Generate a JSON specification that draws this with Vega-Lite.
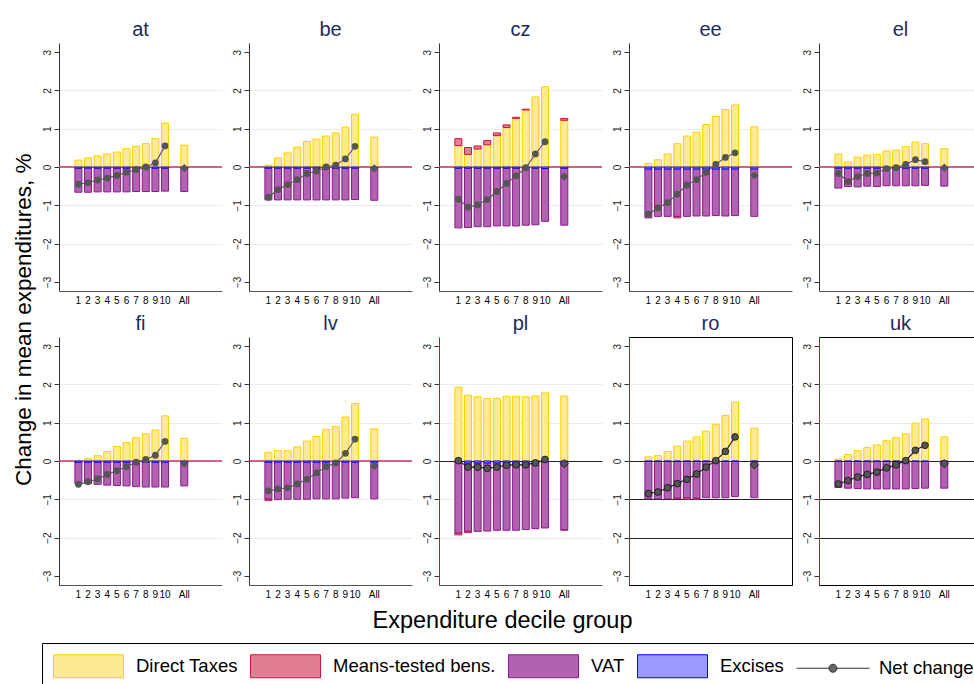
{
"$schema": "https://vega.github.io/schema/vega-lite/v6.json",
"background": "white",
"padding": {"left": 12, "top": 20, "right": 0, "bottom": 0},
"title": {"text": "Change in mean expenditures, %", "orient": "left", "anchor": "middle", "fontSize": 22.5, "color": "black", "offset": 6, "dx": 36},
"data": {"values": [
{"c":"at","d":"1","direct":0.18,"excise":-0.03,"vat":-0.63,"net":-0.45},
{"c":"at","d":"2","direct":0.24,"excise":-0.03,"vat":-0.63,"net":-0.41},
{"c":"at","d":"3","direct":0.29,"excise":-0.03,"vat":-0.62,"net":-0.34},
{"c":"at","d":"4","direct":0.34,"excise":-0.03,"vat":-0.62,"net":-0.29},
{"c":"at","d":"5","direct":0.39,"excise":-0.03,"vat":-0.62,"net":-0.22},
{"c":"at","d":"6","direct":0.48,"excise":-0.03,"vat":-0.62,"net":-0.14},
{"c":"at","d":"7","direct":0.54,"excise":-0.03,"vat":-0.61,"net":-0.07},
{"c":"at","d":"8","direct":0.61,"excise":-0.03,"vat":-0.61,"net":0.0},
{"c":"at","d":"9","direct":0.74,"excise":-0.03,"vat":-0.61,"net":0.11},
{"c":"at","d":"10","direct":1.15,"excise":-0.03,"vat":-0.60,"net":0.55},
{"c":"at","d":"All","direct":0.57,"excise":-0.03,"vat":-0.61,"net":-0.03},
{"c":"be","d":"1","direct":0.05,"excise":-0.03,"vat":-0.83,"net":-0.79},
{"c":"be","d":"2","direct":0.24,"excise":-0.03,"vat":-0.83,"net":-0.59},
{"c":"be","d":"3","direct":0.37,"excise":-0.03,"vat":-0.83,"net":-0.46},
{"c":"be","d":"4","direct":0.52,"excise":-0.03,"vat":-0.83,"net":-0.33},
{"c":"be","d":"5","direct":0.67,"excise":-0.03,"vat":-0.83,"net":-0.17},
{"c":"be","d":"6","direct":0.73,"excise":-0.03,"vat":-0.83,"net":-0.11},
{"c":"be","d":"7","direct":0.81,"excise":-0.03,"vat":-0.83,"net":0.0},
{"c":"be","d":"8","direct":0.89,"excise":-0.03,"vat":-0.83,"net":0.05},
{"c":"be","d":"9","direct":1.04,"excise":-0.03,"vat":-0.83,"net":0.21},
{"c":"be","d":"10","direct":1.38,"excise":-0.03,"vat":-0.82,"net":0.54},
{"c":"be","d":"All","direct":0.78,"excise":-0.03,"vat":-0.84,"net":-0.04},
{"c":"cz","d":"1","direct":0.56,"welfare":0.18,"excise":-0.03,"vat":-1.56,"net":-0.84},
{"c":"cz","d":"2","direct":0.33,"welfare":0.18,"excise":-0.03,"vat":-1.55,"net":-1.05},
{"c":"cz","d":"3","direct":0.47,"welfare":0.08,"excise":-0.03,"vat":-1.53,"net":-0.99},
{"c":"cz","d":"4","direct":0.58,"welfare":0.11,"excise":-0.03,"vat":-1.53,"net":-0.85},
{"c":"cz","d":"5","direct":0.82,"welfare":0.07,"excise":-0.03,"vat":-1.51,"net":-0.64},
{"c":"cz","d":"6","direct":1.03,"welfare":0.07,"excise":-0.03,"vat":-1.51,"net":-0.43},
{"c":"cz","d":"7","direct":1.27,"welfare":0.03,"excise":-0.03,"vat":-1.51,"net":-0.23},
{"c":"cz","d":"8","direct":1.49,"welfare":0.02,"excise":-0.03,"vat":-1.49,"net":-0.02},
{"c":"cz","d":"9","direct":1.83,"excise":-0.03,"vat":-1.48,"net":0.34},
{"c":"cz","d":"10","direct":2.10,"excise":-0.04,"vat":-1.38,"net":0.66},
{"c":"cz","d":"All","direct":1.22,"welfare":0.05,"excise":-0.03,"vat":-1.49,"net":-0.25},
{"c":"ee","d":"1","direct":0.09,"excise":-0.05,"vat":-1.28,"net":-1.23},
{"c":"ee","d":"2","direct":0.19,"excise":-0.05,"vat":-1.24,"net":-1.07},
{"c":"ee","d":"3","direct":0.34,"excise":-0.05,"vat":-1.24,"net":-0.93},
{"c":"ee","d":"4","direct":0.61,"welfare":-0.04,"excise":-0.05,"vat":-1.24,"net":-0.71},
{"c":"ee","d":"5","direct":0.81,"excise":-0.05,"vat":-1.24,"net":-0.47},
{"c":"ee","d":"6","direct":0.91,"excise":-0.05,"vat":-1.23,"net":-0.33},
{"c":"ee","d":"7","direct":1.11,"excise":-0.05,"vat":-1.23,"net":-0.14},
{"c":"ee","d":"8","direct":1.32,"excise":-0.05,"vat":-1.22,"net":0.07},
{"c":"ee","d":"9","direct":1.50,"excise":-0.05,"vat":-1.23,"net":0.25},
{"c":"ee","d":"10","direct":1.62,"excise":-0.05,"vat":-1.22,"net":0.37},
{"c":"ee","d":"All","direct":1.05,"excise":-0.05,"vat":-1.24,"net":-0.22},
{"c":"el","d":"1","direct":0.34,"excise":-0.03,"vat":-0.52,"net":-0.17},
{"c":"el","d":"2","direct":0.13,"excise":-0.03,"vat":-0.48,"net":-0.38},
{"c":"el","d":"3","direct":0.26,"excise":-0.03,"vat":-0.49,"net":-0.25},
{"c":"el","d":"4","direct":0.31,"excise":-0.03,"vat":-0.47,"net":-0.17},
{"c":"el","d":"5","direct":0.33,"excise":-0.03,"vat":-0.48,"net":-0.16},
{"c":"el","d":"6","direct":0.42,"excise":-0.03,"vat":-0.46,"net":-0.04},
{"c":"el","d":"7","direct":0.44,"excise":-0.03,"vat":-0.46,"net":-0.02},
{"c":"el","d":"8","direct":0.53,"excise":-0.03,"vat":-0.46,"net":0.07},
{"c":"el","d":"9","direct":0.65,"excise":-0.03,"vat":-0.46,"net":0.19},
{"c":"el","d":"10","direct":0.61,"excise":-0.03,"vat":-0.45,"net":0.14},
{"c":"el","d":"All","direct":0.48,"excise":-0.03,"vat":-0.47,"net":-0.02},
{"c":"fi","d":"1","direct":0.02,"excise":-0.03,"vat":-0.56,"net":-0.61},
{"c":"fi","d":"2","direct":0.06,"excise":-0.03,"vat":-0.56,"net":-0.54},
{"c":"fi","d":"3","direct":0.14,"excise":-0.03,"vat":-0.58,"net":-0.47},
{"c":"fi","d":"4","direct":0.25,"excise":-0.03,"vat":-0.60,"net":-0.35},
{"c":"fi","d":"5","direct":0.38,"excise":-0.03,"vat":-0.61,"net":-0.25},
{"c":"fi","d":"6","direct":0.48,"excise":-0.03,"vat":-0.62,"net":-0.15},
{"c":"fi","d":"7","direct":0.61,"excise":-0.03,"vat":-0.64,"net":-0.03},
{"c":"fi","d":"8","direct":0.71,"excise":-0.03,"vat":-0.65,"net":0.04},
{"c":"fi","d":"9","direct":0.81,"excise":-0.03,"vat":-0.65,"net":0.15},
{"c":"fi","d":"10","direct":1.18,"excise":-0.03,"vat":-0.65,"net":0.51},
{"c":"fi","d":"All","direct":0.59,"excise":-0.03,"vat":-0.62,"net":-0.07},
{"c":"lv","d":"1","direct":0.23,"welfare":-0.04,"excise":-0.03,"vat":-0.96,"net":-0.78},
{"c":"lv","d":"2","direct":0.27,"excise":-0.03,"vat":-0.98,"net":-0.73},
{"c":"lv","d":"3","direct":0.27,"excise":-0.03,"vat":-0.97,"net":-0.70},
{"c":"lv","d":"4","direct":0.37,"excise":-0.03,"vat":-0.97,"net":-0.60},
{"c":"lv","d":"5","direct":0.52,"excise":-0.03,"vat":-0.97,"net":-0.48},
{"c":"lv","d":"6","direct":0.64,"excise":-0.03,"vat":-0.96,"net":-0.31},
{"c":"lv","d":"7","direct":0.83,"excise":-0.03,"vat":-0.96,"net":-0.15},
{"c":"lv","d":"8","direct":0.90,"excise":-0.03,"vat":-0.96,"net":-0.05},
{"c":"lv","d":"9","direct":1.15,"excise":-0.03,"vat":-0.94,"net":0.20},
{"c":"lv","d":"10","direct":1.50,"excise":-0.03,"vat":-0.93,"net":0.57},
{"c":"lv","d":"All","direct":0.84,"excise":-0.03,"vat":-0.96,"net":-0.13},
{"c":"pl","d":"1","direct":1.93,"welfare":-0.05,"excise":-0.01,"vat":-1.87,"net":0.01},
{"c":"pl","d":"2","direct":1.72,"welfare":-0.04,"excise":-0.05,"vat":-1.78,"net":-0.16},
{"c":"pl","d":"3","direct":1.68,"excise":-0.05,"vat":-1.79,"net":-0.16},
{"c":"pl","d":"4","direct":1.63,"excise":-0.05,"vat":-1.78,"net":-0.19},
{"c":"pl","d":"5","direct":1.64,"excise":-0.05,"vat":-1.76,"net":-0.16},
{"c":"pl","d":"6","direct":1.69,"excise":-0.05,"vat":-1.76,"net":-0.11},
{"c":"pl","d":"7","direct":1.69,"excise":-0.05,"vat":-1.76,"net":-0.10},
{"c":"pl","d":"8","direct":1.68,"excise":-0.05,"vat":-1.74,"net":-0.10},
{"c":"pl","d":"9","direct":1.70,"excise":-0.05,"vat":-1.72,"net":-0.05},
{"c":"pl","d":"10","direct":1.78,"excise":-0.02,"vat":-1.73,"net":0.04},
{"c":"pl","d":"All","direct":1.70,"welfare":-0.02,"excise":-0.03,"vat":-1.76,"net":-0.07},
{"c":"ro","d":"1","direct":0.11,"excise":-0.01,"vat":-0.98,"net":-0.85},
{"c":"ro","d":"2","direct":0.14,"excise":-0.01,"vat":-0.98,"net":-0.81},
{"c":"ro","d":"3","direct":0.25,"excise":-0.01,"vat":-0.98,"net":-0.70},
{"c":"ro","d":"4","direct":0.39,"welfare":-0.02,"excise":-0.01,"vat":-0.96,"net":-0.59},
{"c":"ro","d":"5","direct":0.52,"welfare":-0.04,"excise":-0.01,"vat":-0.95,"net":-0.48},
{"c":"ro","d":"6","direct":0.63,"welfare":-0.03,"excise":-0.01,"vat":-0.96,"net":-0.34},
{"c":"ro","d":"7","direct":0.78,"excise":-0.01,"vat":-0.95,"net":-0.16},
{"c":"ro","d":"8","direct":0.96,"excise":-0.01,"vat":-0.95,"net":0.01},
{"c":"ro","d":"9","direct":1.19,"excise":-0.01,"vat":-0.95,"net":0.25},
{"c":"ro","d":"10","direct":1.54,"excise":-0.01,"vat":-0.92,"net":0.63},
{"c":"ro","d":"All","direct":0.86,"excise":-0.01,"vat":-0.95,"net":-0.10},
{"c":"uk","d":"1","direct":0.05,"excise":-0.01,"vat":-0.68,"net":-0.60},
{"c":"uk","d":"2","direct":0.17,"excise":-0.01,"vat":-0.70,"net":-0.51},
{"c":"uk","d":"3","direct":0.27,"excise":-0.01,"vat":-0.71,"net":-0.42},
{"c":"uk","d":"4","direct":0.35,"excise":-0.01,"vat":-0.72,"net":-0.35},
{"c":"uk","d":"5","direct":0.42,"excise":-0.01,"vat":-0.72,"net":-0.29},
{"c":"uk","d":"6","direct":0.53,"excise":-0.01,"vat":-0.72,"net":-0.18},
{"c":"uk","d":"7","direct":0.61,"excise":-0.01,"vat":-0.72,"net":-0.10},
{"c":"uk","d":"8","direct":0.71,"excise":-0.01,"vat":-0.72,"net":0.01},
{"c":"uk","d":"9","direct":0.99,"excise":-0.01,"vat":-0.71,"net":0.28},
{"c":"uk","d":"10","direct":1.10,"excise":-0.01,"vat":-0.70,"net":0.41},
{"c":"uk","d":"All","direct":0.63,"excise":-0.01,"vat":-0.70,"net":-0.07}
]},
"columns": 5,
"spacing": {"row": 46, "column": 27},
"bounds": "flush",
"concat": [
{"title": "at", "width": 163, "height": 248,
 "transform": [{"filter": "datum.c == 'at'"}],
 "layer": [
  {"transform": [{"filter": "datum.d == 'All'"}], "mark": {"type": "rule", "color": "#cc2a58", "strokeWidth": 1.4},
   "encoding": {"y": {"datum": 0, "type": "quantitative", "scale": {"domain": [-3.24, 3.24], "nice": false, "zero": false}}}},
  {"transform": [{"fold": ["direct","welfare","vat","excise"], "as": ["component","value"]}, {"filter": {"field": "value", "valid": true}}],
   "mark": {"type": "bar", "strokeWidth": 1},
   "encoding": {
    "x": {"field": "d", "type": "nominal", "scale": {"domain": [" ","1","2","3","4","5","6","7","8","9","10","  ","All","   ","    ","     "], "paddingInner": 0.27, "paddingOuter": 0.6, "align": 0.54}, "axis": {"title": null}},
    "y": {"field": "value", "type": "quantitative", "stack": "zero", "scale": {"domain": [-3.24, 3.24], "nice": false, "zero": false}, "axis": {"title": null, "values": [-3,-2,-1,0,1,2,3], "domainColor": "#333333", "gridColor": "#e4edef", "gridOpacity": {"condition": {"test": "abs(datum.value) == 3 || datum.value == 0", "value": 0}, "value": 1}}},
    "fill": {"field": "component", "type": "nominal", "scale": {"domain": ["direct","welfare","vat","excise","net"], "range": ["#ffea94","#e07f94","#b162b1","#9a9aff","#666666"]},
      "legend": {"title": null, "orient": "none", "legendX": -17, "legendY": 600, "direction": "horizontal", "columns": 5, "strokeColor": "black", "padding": 11, "symbolType": "M-1,-1H5.087V1H-1Z", "symbolSize": 529, "symbolStrokeWidth": 1, "labelFontSize": 18.5, "labelColor": "black", "labelOffset": 59, "columnPadding": 10, "labelLimit": 300,
        "labelExpr": "{'direct':'Direct Taxes','welfare':'Means-tested bens.','vat':'VAT','excise':'Excises','net':'Net change'}[datum.value]",
        "encode": {"symbols": {"update": {"shape": {"signal": "datum.value === 'net' ? 'M-1,0H1.82M2.52,0H5.35M1.82,0A0.35,0.35,0,1,1,2.52,0A0.35,0.35,0,1,1,1.82,0Z' : 'M-1,-1H5.087V1H-1Z'"}}}}}},
    "stroke": {"field": "component", "type": "nominal", "scale": {"domain": ["direct","welfare","vat","excise","net"], "range": ["#ffd000","#d2143f","#8b1a8b","#0000ff","#333333"]},
      "legend": {"title": null, "orient": "none", "legendX": -17, "legendY": 600, "direction": "horizontal", "columns": 5, "strokeColor": "black", "padding": 11, "symbolType": "M-1,-1H5.087V1H-1Z", "symbolSize": 529, "symbolStrokeWidth": 1, "labelFontSize": 18.5, "labelColor": "black", "labelOffset": 59, "columnPadding": 10, "labelLimit": 300,
        "labelExpr": "{'direct':'Direct Taxes','welfare':'Means-tested bens.','vat':'VAT','excise':'Excises','net':'Net change'}[datum.value]",
        "encode": {"symbols": {"update": {"shape": {"signal": "datum.value === 'net' ? 'M-1,0H1.82M2.52,0H5.35M1.82,0A0.35,0.35,0,1,1,2.52,0A0.35,0.35,0,1,1,1.82,0Z' : 'M-1,-1H5.087V1H-1Z'"}}}}}},
    "order": {"field": "component", "sort": "ascending"}}},
  {"transform": [{"filter": "datum.d != 'All'"}], "mark": {"type": "line", "color": "#555555", "strokeWidth": 1.1},
   "encoding": {"x": {"field": "d", "type": "nominal", "scale": {"domain": [" ","1","2","3","4","5","6","7","8","9","10","  ","All","   ","    ","     "], "paddingInner": 0.27, "paddingOuter": 0.6, "align": 0.54}}, "y": {"field": "net", "type": "quantitative", "scale": {"domain": [-3.24, 3.24], "nice": false, "zero": false}}, "order": {"value": null}}},
  {"mark": {"type": "point", "filled": true, "color": "#555555", "opacity": 1},
   "encoding": {"x": {"field": "d", "type": "nominal", "scale": {"domain": [" ","1","2","3","4","5","6","7","8","9","10","  ","All","   ","    ","     "], "paddingInner": 0.27, "paddingOuter": 0.6, "align": 0.54}}, "y": {"field": "net", "type": "quantitative", "scale": {"domain": [-3.24, 3.24], "nice": false, "zero": false}},
    "shape": {"condition": {"test": "datum.d == 'All'", "value": "diamond"}, "value": "circle"},
    "size": {"condition": {"test": "datum.d == 'All'", "value": 70}, "value": 46}}}
 ]},
{"title": "be", "width": 163, "height": 248,
 "transform": [{"filter": "datum.c == 'be'"}],
 "layer": [
  {"transform": [{"filter": "datum.d == 'All'"}], "mark": {"type": "rule", "color": "#cc2a58", "strokeWidth": 1.4},
   "encoding": {"y": {"datum": 0, "type": "quantitative", "scale": {"domain": [-3.24, 3.24], "nice": false, "zero": false}}}},
  {"transform": [{"fold": ["direct","welfare","vat","excise"], "as": ["component","value"]}, {"filter": {"field": "value", "valid": true}}],
   "mark": {"type": "bar", "strokeWidth": 1},
   "encoding": {
    "x": {"field": "d", "type": "nominal", "scale": {"domain": [" ","1","2","3","4","5","6","7","8","9","10","  ","All","   ","    ","     "], "paddingInner": 0.27, "paddingOuter": 0.6, "align": 0.54}, "axis": {"title": null}},
    "y": {"field": "value", "type": "quantitative", "stack": "zero", "scale": {"domain": [-3.24, 3.24], "nice": false, "zero": false}, "axis": {"title": null, "values": [-3,-2,-1,0,1,2,3], "domainColor": "#333333", "gridColor": "#e4edef", "gridOpacity": {"condition": {"test": "abs(datum.value) == 3 || datum.value == 0", "value": 0}, "value": 1}}},
    "fill": {"field": "component", "type": "nominal", "scale": {"domain": ["direct","welfare","vat","excise","net"], "range": ["#ffea94","#e07f94","#b162b1","#9a9aff","#666666"]}, "legend": null},
    "stroke": {"field": "component", "type": "nominal", "scale": {"domain": ["direct","welfare","vat","excise","net"], "range": ["#ffd000","#d2143f","#8b1a8b","#0000ff","#333333"]}, "legend": null},
    "order": {"field": "component", "sort": "ascending"}}},
  {"transform": [{"filter": "datum.d != 'All'"}], "mark": {"type": "line", "color": "#555555", "strokeWidth": 1.1},
   "encoding": {"x": {"field": "d", "type": "nominal", "scale": {"domain": [" ","1","2","3","4","5","6","7","8","9","10","  ","All","   ","    ","     "], "paddingInner": 0.27, "paddingOuter": 0.6, "align": 0.54}}, "y": {"field": "net", "type": "quantitative", "scale": {"domain": [-3.24, 3.24], "nice": false, "zero": false}}, "order": {"value": null}}},
  {"mark": {"type": "point", "filled": true, "color": "#555555", "opacity": 1},
   "encoding": {"x": {"field": "d", "type": "nominal", "scale": {"domain": [" ","1","2","3","4","5","6","7","8","9","10","  ","All","   ","    ","     "], "paddingInner": 0.27, "paddingOuter": 0.6, "align": 0.54}}, "y": {"field": "net", "type": "quantitative", "scale": {"domain": [-3.24, 3.24], "nice": false, "zero": false}},
    "shape": {"condition": {"test": "datum.d == 'All'", "value": "diamond"}, "value": "circle"},
    "size": {"condition": {"test": "datum.d == 'All'", "value": 70}, "value": 46}}}
 ]},
{"title": "cz", "width": 163, "height": 248,
 "transform": [{"filter": "datum.c == 'cz'"}],
 "layer": [
  {"transform": [{"filter": "datum.d == 'All'"}], "mark": {"type": "rule", "color": "#cc2a58", "strokeWidth": 1.4},
   "encoding": {"y": {"datum": 0, "type": "quantitative", "scale": {"domain": [-3.24, 3.24], "nice": false, "zero": false}}}},
  {"transform": [{"fold": ["direct","welfare","vat","excise"], "as": ["component","value"]}, {"filter": {"field": "value", "valid": true}}],
   "mark": {"type": "bar", "strokeWidth": 1},
   "encoding": {
    "x": {"field": "d", "type": "nominal", "scale": {"domain": [" ","1","2","3","4","5","6","7","8","9","10","  ","All","   ","    ","     "], "paddingInner": 0.27, "paddingOuter": 0.6, "align": 0.54}, "axis": {"title": null}},
    "y": {"field": "value", "type": "quantitative", "stack": "zero", "scale": {"domain": [-3.24, 3.24], "nice": false, "zero": false}, "axis": {"title": null, "values": [-3,-2,-1,0,1,2,3], "domainColor": "#333333", "gridColor": "#e4edef", "gridOpacity": {"condition": {"test": "abs(datum.value) == 3 || datum.value == 0", "value": 0}, "value": 1}}},
    "fill": {"field": "component", "type": "nominal", "scale": {"domain": ["direct","welfare","vat","excise","net"], "range": ["#ffea94","#e07f94","#b162b1","#9a9aff","#666666"]}, "legend": null},
    "stroke": {"field": "component", "type": "nominal", "scale": {"domain": ["direct","welfare","vat","excise","net"], "range": ["#ffd000","#d2143f","#8b1a8b","#0000ff","#333333"]}, "legend": null},
    "order": {"field": "component", "sort": "ascending"}}},
  {"transform": [{"filter": "datum.d != 'All'"}], "mark": {"type": "line", "color": "#555555", "strokeWidth": 1.1},
   "encoding": {"x": {"field": "d", "type": "nominal", "scale": {"domain": [" ","1","2","3","4","5","6","7","8","9","10","  ","All","   ","    ","     "], "paddingInner": 0.27, "paddingOuter": 0.6, "align": 0.54}}, "y": {"field": "net", "type": "quantitative", "scale": {"domain": [-3.24, 3.24], "nice": false, "zero": false}}, "order": {"value": null}}},
  {"mark": {"type": "point", "filled": true, "color": "#555555", "opacity": 1},
   "encoding": {"x": {"field": "d", "type": "nominal", "scale": {"domain": [" ","1","2","3","4","5","6","7","8","9","10","  ","All","   ","    ","     "], "paddingInner": 0.27, "paddingOuter": 0.6, "align": 0.54}}, "y": {"field": "net", "type": "quantitative", "scale": {"domain": [-3.24, 3.24], "nice": false, "zero": false}},
    "shape": {"condition": {"test": "datum.d == 'All'", "value": "diamond"}, "value": "circle"},
    "size": {"condition": {"test": "datum.d == 'All'", "value": 70}, "value": 46}}}
 ]},
{"title": "ee", "width": 163, "height": 248,
 "transform": [{"filter": "datum.c == 'ee'"}],
 "layer": [
  {"transform": [{"filter": "datum.d == 'All'"}], "mark": {"type": "rule", "color": "#cc2a58", "strokeWidth": 1.4},
   "encoding": {"y": {"datum": 0, "type": "quantitative", "scale": {"domain": [-3.24, 3.24], "nice": false, "zero": false}}}},
  {"transform": [{"fold": ["direct","welfare","vat","excise"], "as": ["component","value"]}, {"filter": {"field": "value", "valid": true}}],
   "mark": {"type": "bar", "strokeWidth": 1},
   "encoding": {
    "x": {"field": "d", "type": "nominal", "scale": {"domain": [" ","1","2","3","4","5","6","7","8","9","10","  ","All","   ","    ","     "], "paddingInner": 0.27, "paddingOuter": 0.6, "align": 0.54}, "axis": {"title": null}},
    "y": {"field": "value", "type": "quantitative", "stack": "zero", "scale": {"domain": [-3.24, 3.24], "nice": false, "zero": false}, "axis": {"title": null, "values": [-3,-2,-1,0,1,2,3], "domainColor": "#333333", "gridColor": "#e4edef", "gridOpacity": {"condition": {"test": "abs(datum.value) == 3 || datum.value == 0", "value": 0}, "value": 1}}},
    "fill": {"field": "component", "type": "nominal", "scale": {"domain": ["direct","welfare","vat","excise","net"], "range": ["#ffea94","#e07f94","#b162b1","#9a9aff","#666666"]}, "legend": null},
    "stroke": {"field": "component", "type": "nominal", "scale": {"domain": ["direct","welfare","vat","excise","net"], "range": ["#ffd000","#d2143f","#8b1a8b","#0000ff","#333333"]}, "legend": null},
    "order": {"field": "component", "sort": "ascending"}}},
  {"transform": [{"filter": "datum.d != 'All'"}], "mark": {"type": "line", "color": "#555555", "strokeWidth": 1.1},
   "encoding": {"x": {"field": "d", "type": "nominal", "scale": {"domain": [" ","1","2","3","4","5","6","7","8","9","10","  ","All","   ","    ","     "], "paddingInner": 0.27, "paddingOuter": 0.6, "align": 0.54}}, "y": {"field": "net", "type": "quantitative", "scale": {"domain": [-3.24, 3.24], "nice": false, "zero": false}}, "order": {"value": null}}},
  {"mark": {"type": "point", "filled": true, "color": "#555555", "opacity": 1},
   "encoding": {"x": {"field": "d", "type": "nominal", "scale": {"domain": [" ","1","2","3","4","5","6","7","8","9","10","  ","All","   ","    ","     "], "paddingInner": 0.27, "paddingOuter": 0.6, "align": 0.54}}, "y": {"field": "net", "type": "quantitative", "scale": {"domain": [-3.24, 3.24], "nice": false, "zero": false}},
    "shape": {"condition": {"test": "datum.d == 'All'", "value": "diamond"}, "value": "circle"},
    "size": {"condition": {"test": "datum.d == 'All'", "value": 70}, "value": 46}}}
 ]},
{"title": "el", "width": 163, "height": 248,
 "transform": [{"filter": "datum.c == 'el'"}],
 "layer": [
  {"transform": [{"filter": "datum.d == 'All'"}], "mark": {"type": "rule", "color": "#cc2a58", "strokeWidth": 1.4},
   "encoding": {"y": {"datum": 0, "type": "quantitative", "scale": {"domain": [-3.24, 3.24], "nice": false, "zero": false}}}},
  {"transform": [{"fold": ["direct","welfare","vat","excise"], "as": ["component","value"]}, {"filter": {"field": "value", "valid": true}}],
   "mark": {"type": "bar", "strokeWidth": 1},
   "encoding": {
    "x": {"field": "d", "type": "nominal", "scale": {"domain": [" ","1","2","3","4","5","6","7","8","9","10","  ","All","   ","    ","     "], "paddingInner": 0.27, "paddingOuter": 0.6, "align": 0.54}, "axis": {"title": null}},
    "y": {"field": "value", "type": "quantitative", "stack": "zero", "scale": {"domain": [-3.24, 3.24], "nice": false, "zero": false}, "axis": {"title": null, "values": [-3,-2,-1,0,1,2,3], "domainColor": "#333333", "gridColor": "#e4edef", "gridOpacity": {"condition": {"test": "abs(datum.value) == 3 || datum.value == 0", "value": 0}, "value": 1}}},
    "fill": {"field": "component", "type": "nominal", "scale": {"domain": ["direct","welfare","vat","excise","net"], "range": ["#ffea94","#e07f94","#b162b1","#9a9aff","#666666"]}, "legend": null},
    "stroke": {"field": "component", "type": "nominal", "scale": {"domain": ["direct","welfare","vat","excise","net"], "range": ["#ffd000","#d2143f","#8b1a8b","#0000ff","#333333"]}, "legend": null},
    "order": {"field": "component", "sort": "ascending"}}},
  {"transform": [{"filter": "datum.d != 'All'"}], "mark": {"type": "line", "color": "#555555", "strokeWidth": 1.1},
   "encoding": {"x": {"field": "d", "type": "nominal", "scale": {"domain": [" ","1","2","3","4","5","6","7","8","9","10","  ","All","   ","    ","     "], "paddingInner": 0.27, "paddingOuter": 0.6, "align": 0.54}}, "y": {"field": "net", "type": "quantitative", "scale": {"domain": [-3.24, 3.24], "nice": false, "zero": false}}, "order": {"value": null}}},
  {"mark": {"type": "point", "filled": true, "color": "#555555", "opacity": 1},
   "encoding": {"x": {"field": "d", "type": "nominal", "scale": {"domain": [" ","1","2","3","4","5","6","7","8","9","10","  ","All","   ","    ","     "], "paddingInner": 0.27, "paddingOuter": 0.6, "align": 0.54}}, "y": {"field": "net", "type": "quantitative", "scale": {"domain": [-3.24, 3.24], "nice": false, "zero": false}},
    "shape": {"condition": {"test": "datum.d == 'All'", "value": "diamond"}, "value": "circle"},
    "size": {"condition": {"test": "datum.d == 'All'", "value": 70}, "value": 46}}}
 ]},
{"title": "fi", "width": 163, "height": 248,
 "transform": [{"filter": "datum.c == 'fi'"}],
 "layer": [
  {"transform": [{"filter": "datum.d == 'All'"}], "mark": {"type": "rule", "color": "#cc2a58", "strokeWidth": 1.4},
   "encoding": {"y": {"datum": 0, "type": "quantitative", "scale": {"domain": [-3.24, 3.24], "nice": false, "zero": false}}}},
  {"transform": [{"fold": ["direct","welfare","vat","excise"], "as": ["component","value"]}, {"filter": {"field": "value", "valid": true}}],
   "mark": {"type": "bar", "strokeWidth": 1},
   "encoding": {
    "x": {"field": "d", "type": "nominal", "scale": {"domain": [" ","1","2","3","4","5","6","7","8","9","10","  ","All","   ","    ","     "], "paddingInner": 0.27, "paddingOuter": 0.6, "align": 0.54}, "axis": {"title": null}},
    "y": {"field": "value", "type": "quantitative", "stack": "zero", "scale": {"domain": [-3.24, 3.24], "nice": false, "zero": false}, "axis": {"title": null, "values": [-3,-2,-1,0,1,2,3], "domainColor": "#333333", "gridColor": "#e4edef", "gridOpacity": {"condition": {"test": "abs(datum.value) == 3 || datum.value == 0", "value": 0}, "value": 1}}},
    "fill": {"field": "component", "type": "nominal", "scale": {"domain": ["direct","welfare","vat","excise","net"], "range": ["#ffea94","#e07f94","#b162b1","#9a9aff","#666666"]}, "legend": null},
    "stroke": {"field": "component", "type": "nominal", "scale": {"domain": ["direct","welfare","vat","excise","net"], "range": ["#ffd000","#d2143f","#8b1a8b","#0000ff","#333333"]}, "legend": null},
    "order": {"field": "component", "sort": "ascending"}}},
  {"transform": [{"filter": "datum.d != 'All'"}], "mark": {"type": "line", "color": "#555555", "strokeWidth": 1.1},
   "encoding": {"x": {"field": "d", "type": "nominal", "scale": {"domain": [" ","1","2","3","4","5","6","7","8","9","10","  ","All","   ","    ","     "], "paddingInner": 0.27, "paddingOuter": 0.6, "align": 0.54}}, "y": {"field": "net", "type": "quantitative", "scale": {"domain": [-3.24, 3.24], "nice": false, "zero": false}}, "order": {"value": null}}},
  {"mark": {"type": "point", "filled": true, "color": "#555555", "opacity": 1},
   "encoding": {"x": {"field": "d", "type": "nominal", "scale": {"domain": [" ","1","2","3","4","5","6","7","8","9","10","  ","All","   ","    ","     "], "paddingInner": 0.27, "paddingOuter": 0.6, "align": 0.54}}, "y": {"field": "net", "type": "quantitative", "scale": {"domain": [-3.24, 3.24], "nice": false, "zero": false}},
    "shape": {"condition": {"test": "datum.d == 'All'", "value": "diamond"}, "value": "circle"},
    "size": {"condition": {"test": "datum.d == 'All'", "value": 70}, "value": 46}}}
 ]},
{"title": "lv", "width": 163, "height": 248,
 "transform": [{"filter": "datum.c == 'lv'"}],
 "layer": [
  {"transform": [{"filter": "datum.d == 'All'"}], "mark": {"type": "rule", "color": "#cc2a58", "strokeWidth": 1.4},
   "encoding": {"y": {"datum": 0, "type": "quantitative", "scale": {"domain": [-3.24, 3.24], "nice": false, "zero": false}}}},
  {"transform": [{"fold": ["direct","welfare","vat","excise"], "as": ["component","value"]}, {"filter": {"field": "value", "valid": true}}],
   "mark": {"type": "bar", "strokeWidth": 1},
   "encoding": {
    "x": {"field": "d", "type": "nominal", "scale": {"domain": [" ","1","2","3","4","5","6","7","8","9","10","  ","All","   ","    ","     "], "paddingInner": 0.27, "paddingOuter": 0.6, "align": 0.54}, "axis": {"title": null}},
    "y": {"field": "value", "type": "quantitative", "stack": "zero", "scale": {"domain": [-3.24, 3.24], "nice": false, "zero": false}, "axis": {"title": null, "values": [-3,-2,-1,0,1,2,3], "domainColor": "#333333", "gridColor": "#e4edef", "gridOpacity": {"condition": {"test": "abs(datum.value) == 3 || datum.value == 0", "value": 0}, "value": 1}}},
    "fill": {"field": "component", "type": "nominal", "scale": {"domain": ["direct","welfare","vat","excise","net"], "range": ["#ffea94","#e07f94","#b162b1","#9a9aff","#666666"]}, "legend": null},
    "stroke": {"field": "component", "type": "nominal", "scale": {"domain": ["direct","welfare","vat","excise","net"], "range": ["#ffd000","#d2143f","#8b1a8b","#0000ff","#333333"]}, "legend": null},
    "order": {"field": "component", "sort": "ascending"}}},
  {"transform": [{"filter": "datum.d != 'All'"}], "mark": {"type": "line", "color": "#555555", "strokeWidth": 1.1},
   "encoding": {"x": {"field": "d", "type": "nominal", "scale": {"domain": [" ","1","2","3","4","5","6","7","8","9","10","  ","All","   ","    ","     "], "paddingInner": 0.27, "paddingOuter": 0.6, "align": 0.54}}, "y": {"field": "net", "type": "quantitative", "scale": {"domain": [-3.24, 3.24], "nice": false, "zero": false}}, "order": {"value": null}}},
  {"mark": {"type": "point", "filled": true, "color": "#555555", "opacity": 1},
   "encoding": {"x": {"field": "d", "type": "nominal", "scale": {"domain": [" ","1","2","3","4","5","6","7","8","9","10","  ","All","   ","    ","     "], "paddingInner": 0.27, "paddingOuter": 0.6, "align": 0.54}}, "y": {"field": "net", "type": "quantitative", "scale": {"domain": [-3.24, 3.24], "nice": false, "zero": false}},
    "shape": {"condition": {"test": "datum.d == 'All'", "value": "diamond"}, "value": "circle"},
    "size": {"condition": {"test": "datum.d == 'All'", "value": 70}, "value": 46}}}
 ]},
{"title": "pl", "width": 163, "height": 248,
 "transform": [{"filter": "datum.c == 'pl'"}],
 "layer": [
  {"transform": [{"fold": ["direct","welfare","vat","excise"], "as": ["component","value"]}, {"filter": {"field": "value", "valid": true}}],
   "mark": {"type": "bar", "strokeWidth": 1},
   "encoding": {
    "x": {"field": "d", "type": "nominal", "scale": {"domain": [" ","1","2","3","4","5","6","7","8","9","10","  ","All","   ","    ","     "], "paddingInner": 0.27, "paddingOuter": 0.6, "align": 0.54}, "axis": {"title": "Expenditure decile group", "titleFontSize": 23.5, "titleFontWeight": "normal", "titleColor": "black", "titleX": 63, "titleY": 42, "titleAlign": "center", "titleBaseline": "alphabetic"}},
    "y": {"field": "value", "type": "quantitative", "stack": "zero", "scale": {"domain": [-3.24, 3.24], "nice": false, "zero": false}, "axis": {"title": null, "values": [-3,-2,-1,0,1,2,3], "domainColor": "#c8102e", "gridColor": {"condition": {"test": "datum.value == 0", "value": "#222222"}, "value": "#e4edef"}, "gridOpacity": {"condition": {"test": "abs(datum.value) == 3", "value": 0}, "value": 1}}},
    "fill": {"field": "component", "type": "nominal", "scale": {"domain": ["direct","welfare","vat","excise","net"], "range": ["#ffea94","#e07f94","#b162b1","#9a9aff","#666666"]}, "legend": null},
    "stroke": {"field": "component", "type": "nominal", "scale": {"domain": ["direct","welfare","vat","excise","net"], "range": ["#ffd000","#d2143f","#8b1a8b","#0000ff","#333333"]}, "legend": null},
    "order": {"field": "component", "sort": "ascending"}}},
  {"transform": [{"filter": "datum.d != 'All'"}], "mark": {"type": "line", "color": "#111111", "strokeWidth": 1.1},
   "encoding": {"x": {"field": "d", "type": "nominal", "scale": {"domain": [" ","1","2","3","4","5","6","7","8","9","10","  ","All","   ","    ","     "], "paddingInner": 0.27, "paddingOuter": 0.6, "align": 0.54}}, "y": {"field": "net", "type": "quantitative", "scale": {"domain": [-3.24, 3.24], "nice": false, "zero": false}}, "order": {"value": null}}},
  {"mark": {"type": "point", "filled": true, "fill": "#555555", "stroke": "#111111", "strokeWidth": 0.8, "opacity": 1},
   "encoding": {"x": {"field": "d", "type": "nominal", "scale": {"domain": [" ","1","2","3","4","5","6","7","8","9","10","  ","All","   ","    ","     "], "paddingInner": 0.27, "paddingOuter": 0.6, "align": 0.54}}, "y": {"field": "net", "type": "quantitative", "scale": {"domain": [-3.24, 3.24], "nice": false, "zero": false}},
    "shape": {"condition": {"test": "datum.d == 'All'", "value": "diamond"}, "value": "circle"},
    "size": {"condition": {"test": "datum.d == 'All'", "value": 70}, "value": 46}}}
 ]},
{"title": "ro", "width": 163, "height": 248, "view": {"stroke": "black", "strokeWidth": 1},
 "transform": [{"filter": "datum.c == 'ro'"}],
 "layer": [
  {"transform": [{"fold": ["direct","welfare","vat","excise"], "as": ["component","value"]}, {"filter": {"field": "value", "valid": true}}],
   "mark": {"type": "bar", "strokeWidth": 1},
   "encoding": {
    "x": {"field": "d", "type": "nominal", "scale": {"domain": [" ","1","2","3","4","5","6","7","8","9","10","  ","All","   ","    ","     "], "paddingInner": 0.27, "paddingOuter": 0.6, "align": 0.54}, "axis": {"title": null, "domainColor": "black"}},
    "y": {"field": "value", "type": "quantitative", "stack": "zero", "scale": {"domain": [-3.24, 3.24], "nice": false, "zero": false}, "axis": {"title": null, "values": [-3,-2,-1,0,1,2,3], "domainColor": "#c8102e", "gridColor": {"condition": {"test": "datum.value <= 0", "value": "#222222"}, "value": "#e4edef"}, "gridOpacity": {"condition": {"test": "abs(datum.value) == 3", "value": 0}, "value": 1}}},
    "fill": {"field": "component", "type": "nominal", "scale": {"domain": ["direct","welfare","vat","excise","net"], "range": ["#ffea94","#e07f94","#b162b1","#9a9aff","#666666"]}, "legend": null},
    "stroke": {"field": "component", "type": "nominal", "scale": {"domain": ["direct","welfare","vat","excise","net"], "range": ["#ffd000","#d2143f","#8b1a8b","#0000ff","#333333"]}, "legend": null},
    "order": {"field": "component", "sort": "ascending"}}},
  {"transform": [{"filter": "datum.d != 'All'"}], "mark": {"type": "line", "color": "#111111", "strokeWidth": 1.1},
   "encoding": {"x": {"field": "d", "type": "nominal", "scale": {"domain": [" ","1","2","3","4","5","6","7","8","9","10","  ","All","   ","    ","     "], "paddingInner": 0.27, "paddingOuter": 0.6, "align": 0.54}}, "y": {"field": "net", "type": "quantitative", "scale": {"domain": [-3.24, 3.24], "nice": false, "zero": false}}, "order": {"value": null}}},
  {"mark": {"type": "point", "filled": true, "fill": "#555555", "stroke": "#111111", "strokeWidth": 0.8, "opacity": 1},
   "encoding": {"x": {"field": "d", "type": "nominal", "scale": {"domain": [" ","1","2","3","4","5","6","7","8","9","10","  ","All","   ","    ","     "], "paddingInner": 0.27, "paddingOuter": 0.6, "align": 0.54}}, "y": {"field": "net", "type": "quantitative", "scale": {"domain": [-3.24, 3.24], "nice": false, "zero": false}},
    "shape": {"condition": {"test": "datum.d == 'All'", "value": "diamond"}, "value": "circle"},
    "size": {"condition": {"test": "datum.d == 'All'", "value": 70}, "value": 46}}}
 ]},
{"title": "uk", "width": 163, "height": 248, "view": {"stroke": "black", "strokeWidth": 1},
 "transform": [{"filter": "datum.c == 'uk'"}],
 "layer": [
  {"transform": [{"fold": ["direct","welfare","vat","excise"], "as": ["component","value"]}, {"filter": {"field": "value", "valid": true}}],
   "mark": {"type": "bar", "strokeWidth": 1},
   "encoding": {
    "x": {"field": "d", "type": "nominal", "scale": {"domain": [" ","1","2","3","4","5","6","7","8","9","10","  ","All","   ","    ","     "], "paddingInner": 0.27, "paddingOuter": 0.6, "align": 0.54}, "axis": {"title": null, "domainColor": "black"}},
    "y": {"field": "value", "type": "quantitative", "stack": "zero", "scale": {"domain": [-3.24, 3.24], "nice": false, "zero": false}, "axis": {"title": null, "values": [-3,-2,-1,0,1,2,3], "domainColor": "#c8102e", "gridColor": {"condition": {"test": "datum.value <= 0", "value": "#222222"}, "value": "#e4edef"}, "gridOpacity": {"condition": {"test": "abs(datum.value) == 3", "value": 0}, "value": 1}}},
    "fill": {"field": "component", "type": "nominal", "scale": {"domain": ["direct","welfare","vat","excise","net"], "range": ["#ffea94","#e07f94","#b162b1","#9a9aff","#666666"]}, "legend": null},
    "stroke": {"field": "component", "type": "nominal", "scale": {"domain": ["direct","welfare","vat","excise","net"], "range": ["#ffd000","#d2143f","#8b1a8b","#0000ff","#333333"]}, "legend": null},
    "order": {"field": "component", "sort": "ascending"}}},
  {"transform": [{"filter": "datum.d != 'All'"}], "mark": {"type": "line", "color": "#111111", "strokeWidth": 1.1},
   "encoding": {"x": {"field": "d", "type": "nominal", "scale": {"domain": [" ","1","2","3","4","5","6","7","8","9","10","  ","All","   ","    ","     "], "paddingInner": 0.27, "paddingOuter": 0.6, "align": 0.54}}, "y": {"field": "net", "type": "quantitative", "scale": {"domain": [-3.24, 3.24], "nice": false, "zero": false}}, "order": {"value": null}}},
  {"mark": {"type": "point", "filled": true, "fill": "#555555", "stroke": "#111111", "strokeWidth": 0.8, "opacity": 1},
   "encoding": {"x": {"field": "d", "type": "nominal", "scale": {"domain": [" ","1","2","3","4","5","6","7","8","9","10","  ","All","   ","    ","     "], "paddingInner": 0.27, "paddingOuter": 0.6, "align": 0.54}}, "y": {"field": "net", "type": "quantitative", "scale": {"domain": [-3.24, 3.24], "nice": false, "zero": false}},
    "shape": {"condition": {"test": "datum.d == 'All'", "value": "diamond"}, "value": "circle"},
    "size": {"condition": {"test": "datum.d == 'All'", "value": 70}, "value": 46}}}
 ]}
],
"config": {
 "font": "Liberation Sans",
 "view": {"stroke": null},
 "title": {"font": "Liberation Sans", "fontSize": 20, "fontWeight": "normal", "color": "#1a2b5e", "offset": 3, "baseline": "alphabetic"},
 "axisX": {"labelAngle": 0, "ticks": false, "tickSize": 0, "labelPadding": 4, "labelFontSize": 10, "labelColor": "black", "domainColor": "#555555", "labelOverlap": false, "grid": false, "labelFont": "Liberation Sans"},
 "axisY": {"labelAngle": 270, "labelAlign": "center", "labelBaseline": "alphabetic", "labelFontSize": 10, "labelColor": "#222222", "labelPadding": 4, "tickSize": 5, "tickColor": "#333333", "grid": true, "labelFont": "Liberation Sans"},
 "legend": {"labelFont": "Liberation Sans"}
}
}
